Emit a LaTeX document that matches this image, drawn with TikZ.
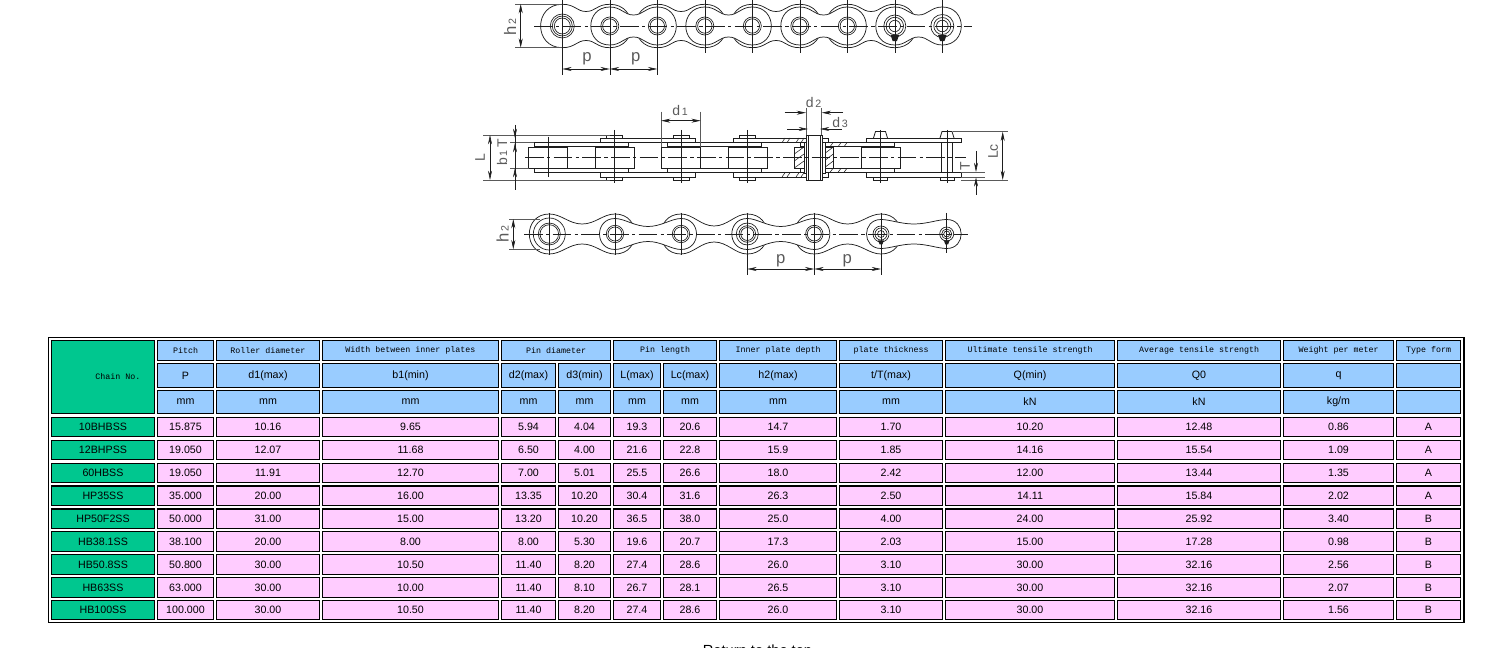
\documentclass[tikz,border=0pt]{standalone}
\usepackage{fontspec}
\setmainfont{Liberation Sans}
\newfontfamily\headmono{Liberation Mono}
\usepackage{xcolor}
\usetikzlibrary{arrows.meta}
\definecolor{ink}{HTML}{1E1E1E}
\definecolor{dimgrey}{HTML}{5A5A5A}
\definecolor{cellblue}{HTML}{99CCFF}
\definecolor{cellpink}{HTML}{FFCCFF}
\definecolor{cellgreen}{HTML}{00C78F}
\tikzset{
  link/.style={draw=ink, fill=white, line width=0.55pt},
  ring/.style={draw=ink, line width=0.5pt},
  part/.style={draw=ink, fill=white, line width=0.6pt},
  thin part/.style={draw=ink, line width=0.4pt},
  cen/.style={draw=ink, line width=0.4pt, dash pattern=on 14pt off 2.5pt on 2.5pt off 2.5pt},
  vcen/.style={draw=ink, line width=0.4pt},
  ext/.style={draw=dimgrey, line width=0.5pt},
  dimline/.style={draw=ink, line width=0.45pt, {Stealth[length=7pt,width=3pt]}-{Stealth[length=7pt,width=3pt]}},
  inarrow/.style={draw=ink, line width=0.45pt, -{Stealth[length=7pt,width=3pt]}},
  dimlab/.style={text=dimgrey, font=\fontsize{12.5}{12.5}\selectfont, inner sep=0pt},
  midlab/.style={dimlab, font=\fontsize{10.5}{10.5}\selectfont},
  cell/.style={draw=black, line width=0.85pt, inner sep=0pt, outer sep=0pt, text=black, font=\fontsize{8}{8}\selectfont},
  headcell/.style={cell, fill=cellblue},
  headtext/.style={font=\headmono\fontsize{6.25}{6.25}\selectfont},
  datacell/.style={cell, fill=cellpink},
  namecell/.style={cell, fill=cellgreen}
}
% x1, x2, y, lobe radius, waist half height
\newcommand{\ChainLink}[5]{%
  \draw[link] (#1,{#3-#4})
    .. controls ({#1+0.6*#4},{#3-#4}) and ({(#1+#2)/2-0.2*(#2-#1)},{#3-#5}) .. ({(#1+#2)/2},{#3-#5})
    .. controls ({(#1+#2)/2+0.2*(#2-#1)},{#3-#5}) and ({#2-0.6*#4},{#3-#4}) .. (#2,{#3-#4})
    .. controls ({#2+1.333*#4},{#3-#4}) and ({#2+1.333*#4},{#3+#4}) .. (#2,{#3+#4})
    .. controls ({#2-0.6*#4},{#3+#4}) and ({(#1+#2)/2+0.2*(#2-#1)},{#3+#5}) .. ({(#1+#2)/2},{#3+#5})
    .. controls ({(#1+#2)/2-0.2*(#2-#1)},{#3+#5}) and ({#1+0.6*#4},{#3+#4}) .. (#1,{#3+#4})
    .. controls ({#1-1.333*#4},{#3+#4}) and ({#1-1.333*#4},{#3-#4}) .. (#1,{#3-#4}) -- cycle;
}
% x, y, list of radii
\newcommand{\PinRings}[3]{%
  \foreach \rr in {#3} {\draw[ring] (#1,#2) circle[radius=\rr];}
}
% x, y, half width
\newcommand{\ClipMark}[3]{%
  \fill[ink] ({#1-#3},{#2-0.7*#3}) -- ({#1+#3},{#2-0.7*#3}) -- ({#1+0.5*#3},{#2+0.7*#3}) -- ({#1-0.5*#3},{#2+0.7*#3}) -- cycle;
}
% name, x0, x1, y0, y1, style, text
\newcommand{\TabCell}[7]{%
  \node[#6, minimum width={(#3-#2-1)*0.75pt}, minimum height={(#5-#4-1)*0.75pt}] (#1) at ({(#2+#3)/2},{(#4+#5)/2}) {#7};
}
\newcommand{\Sub}[2]{#1{\fontsize{8}{8}\selectfont\,#2}}
\def\colL{{51,157,216,322,501,558,613,663,719,839,945,1117,1283,1396}}
\def\colR{{155,214,320,499,556,611,661,717,837,943,1115,1281,1394,1461}}

\begin{document}
\begin{tikzpicture}[x=0.75pt,y=-0.75pt]
  \useasboundingbox (0,0) rectangle (1505,648);

  % top chain
  \foreach \k in {0,2,4,6} {
    \pgfmathsetmacro{\xa}{562.3+47.5*\k}
    \pgfmathsetmacro{\xb}{\xa+47.5}
    \ChainLink{\xa}{\xb}{26}{21.7}{14.5}
  }
  \foreach \k in {1,3,5,7} {
    \pgfmathsetmacro{\xa}{562.3+47.5*\k}
    \pgfmathsetmacro{\xb}{\xa+47.5}
    \ChainLink{\xa}{\xb}{26}{19}{11}
  }
  \PinRings{562.3}{26}{12,10,8}
  \foreach \k in {1,...,6} {
    \pgfmathsetmacro{\xa}{562.3+47.5*\k}
    \PinRings{\xa}{26}{9,7.2}
  }
  \PinRings{894.8}{26}{11,8.7,5.7}
  \PinRings{942.3}{26}{11.5,8.5,5.8}
  \ClipMark{894.8}{38}{4.3}
  \ClipMark{942.3}{38}{4.3}
  \draw[cen] (534,26) -- (972,26);
  \foreach \k in {3,...,8} {
    \pgfmathsetmacro{\xa}{562.3+47.5*\k}
    \draw[vcen] (\xa,0) -- (\xa,53);
  }
  \foreach \xa in {562.3,609.8,657.3} {\draw[vcen] (\xa,0) -- (\xa,75);}
  \draw[ext] (515,4) -- (562.3,4);
  \draw[ext] (515,47.7) -- (562.3,47.7);
  \draw[dimline] (520.7,4) -- (520.7,47.7);
  \draw[dimline] (562.3,69) -- (609.8,69);
  \draw[dimline] (609.8,69) -- (657.3,69);
  \node[dimlab, rotate=90] (htop) at (510,27) {\Sub{h}{2}};
  \node[dimlab] (pa) at (587,58.5) {p};
  \node[dimlab] (pb) at (635.7,58.5) {p};

  % middle chain
  \foreach \xa in {548,614.5,681,747.5,880.5} {
    \draw[part] ({\xa-19.5},147) rectangle ({\xa+19.5},168);
  }
  \foreach \xa/\xb in {534/628.7,667/761.3,800/894.5} {
    \draw[part] (\xa,142.7) rectangle (\xb,146.7);
    \draw[part] (\xa,168.3) rectangle (\xb,172.3);
  }
  \foreach \xa in {947} {
    \draw[part] ({\xa-5.7},142) rectangle ({\xa+5.7},173);
  }
  \foreach \xa in {614.5,681,747.5} {
    \draw[part] ({\xa-8},135) rectangle ({\xa+8},138);
    \draw[part] ({\xa-8},176.7) rectangle ({\xa+8},180);
  }
  \foreach \xa in {880.5,947} {
    \draw[part] ({\xa-7},138) -- ({\xa-5},131.5) -- ({\xa+5},131.5) -- ({\xa+7},138);
    \draw[part] ({\xa-7},177) rectangle ({\xa+7},180.5);
  }
  \foreach \xa/\xb in {600.5/695,733.5/828,866.5/961} {
    \draw[part] (\xa,138) rectangle (\xb,142.7);
    \draw[part] (\xa,172.7) rectangle (\xb,177);
  }
  % cut pin
  \draw[part] (794.3,147) rectangle (804,168);
  \draw[part] (824,147) rectangle (833.3,168);
  \foreach \ya in {147,154,161} {
    \draw[thin part] (794.3,\ya+7) -- (804,\ya);
    \draw[thin part] (824,\ya+7) -- (833.3,\ya);
  }
  \draw[part] (804,142) rectangle (825,173);
  \draw[part] (806,135) rectangle (822,180);
  \draw[thin part] (808,135) -- (808,180);
  \draw[thin part] (820,135) -- (820,180);
  \foreach \xa in {782,787,796,801} {
    \draw[thin part] (\xa,142.7) -- ({\xa+3},138);
    \draw[thin part] (\xa,177) -- ({\xa+3},172.7);
  }
  \foreach \xa in {830,838,844} {
    \draw[thin part] (\xa,146.7) -- ({\xa+3},142.7);
    \draw[thin part] (\xa,172.3) -- ({\xa+3},168.3);
  }
  \draw[cen] (525,157.5) -- (966,157.5);
  \foreach \xa/\ya/\yb in {548/136.7/176.7,614.5/130/183,681/130/183,747.5/130/183,880.5/130/183,947/130/183} {
    \draw[vcen] (\xa,\ya) -- (\xa,\yb);
  }
  % middle dimensions
  \draw[ext] (483,135) -- (610,135);
  \draw[ext] (483,180) -- (610,180);
  \draw[ext] (510,142.7) -- (534,142.7);
  \draw[ext] (510,168) -- (529,168);
  \draw[dimline] (490,135) -- (490,180);
  \draw[vcen] (515,125) -- (515,190);
  \draw[inarrow] (515,126) -- (515,138);
  \draw[inarrow] (515,152) -- (515,143);
  \draw[inarrow] (515,180) -- (515,168);
  \node[midlab, rotate=90] (ltxt) at (480,158) {L};
  \node[midlab, rotate=90] (bt) at (502,152.5) {\Sub{b}{1}\,T};
  \draw[ext] (661,111.7) -- (661,147);
  \draw[ext] (700.7,111.7) -- (700.7,147);
  \draw[dimline] (661,120.7) -- (700.7,120.7);
  \node[midlab] (done) at (680,110.5) {\Sub{d}{1}};
  \draw[ext] (806,108) -- (806,135);
  \draw[ext] (821.7,108) -- (821.7,135);
  \draw[inarrow] (784.5,112.7) -- (806,112.7);
  \draw[inarrow] (843,112.7) -- (821.7,112.7);
  \node[midlab] (dtwo) at (813.5,103) {\Sub{d}{2}};
  \draw[inarrow] (787,129) -- (808,129);
  \draw[inarrow] (841.7,129) -- (820,129);
  \node[midlab] (dthree) at (840,122.5) {\Sub{d}{3}};
  \draw[ext] (953,131.7) -- (1008,131.7);
  \draw[ext] (961,180) -- (1008,180);
  \draw[dimline] (1002.7,131.7) -- (1002.7,180);
  \node[midlab, rotate=90] (lctxt) at (993,151.5) {Lc};
  \draw[ext] (961,172) -- (985,172);
  \draw[ext] (961,177.3) -- (985,177.3);
  \draw[inarrow] (976,151) -- (976,172);
  \draw[inarrow] (976,195) -- (976,177.3);
  \node[midlab, rotate=90] (ttxt) at (965,166) {T};

  % bottom chain
  \foreach \xa/\xb/\wa in {549.3/615/10,681/747.3/8,814.3/881/10} {
    \ChainLink{\xa}{\xb}{234}{20}{\wa}
  }
  \foreach \xa/\xb in {615/681,747.3/814.3} {
    \ChainLink{\xa}{\xb}{234}{15.5}{7.5}
  }
  \ChainLink{881}{946.7}{234}{14.5}{10}
  \PinRings{549.3}{234}{16,11,9.3}
  \PinRings{747.3}{234}{11,8.3,6.5}
  \foreach \xa in {615,681,814.3} {\PinRings{\xa}{234}{8.7,7};}
  \PinRings{881}{234}{8,6,3.5}
  \PinRings{946.7}{234}{7,5,3}
  \ClipMark{881}{242.3}{2.9}
  \ClipMark{946.7}{242.3}{2.9}
  \draw[cen] (524,234) -- (968,234);
  \foreach \xa/\yb in {549.3/255,615/255,681/255,747.3/275,814.3/275,881/275,946.7/253} {
    \draw[vcen] (\xa,213) -- (\xa,\yb);
  }
  \draw[ext] (509,219) -- (540,219);
  \draw[ext] (509,249.3) -- (540,249.3);
  \draw[dimline] (513.3,219) -- (513.3,249.3);
  \draw[dimline] (747.3,269) -- (814.3,269);
  \draw[dimline] (814.3,269) -- (881,269);
  \node[dimlab, rotate=90] (hbot) at (502.7,234) {\Sub{h}{2}};
  \node[dimlab] (pc) at (780.7,260.5) {p};
  \node[dimlab] (pd) at (847.3,260.5) {p};

  % table
  \draw[draw=black, line width=1pt] (48.5,337.5) rectangle (1464,622.5);
  \TabCell{chainno}{51}{155}{340}{414}{namecell, headtext}{\hspace*{22.5pt}Chain No.}
  \foreach \xa/\xb/\txt [count=\c] in {157/214/Pitch,216/320/Roller diameter,322/499/Width between inner plates,501/611/Pin diameter,613/717/Pin length,719/837/Inner plate depth,839/943/plate thickness,945/1115/Ultimate tensile strength,1117/1281/Average tensile strength,1283/1394/Weight per meter,1396/1461/Type form} {
    \TabCell{top\c}{\xa}{\xb}{340}{361}{headcell, headtext}{\txt}
  }
  \foreach \txt/\unit [count=\c] in {P/mm,d1(max)/mm,b1(min)/mm,d2(max)/mm,d3(min)/mm,L(max)/mm,Lc(max)/mm,h2(max)/mm,{t/T(max)}/mm,Q(min)/kN,Q0/kN,q/{kg/m},/} {
    \pgfmathsetmacro{\xa}{\colL[\c]}
    \pgfmathsetmacro{\xb}{\colR[\c]}
    \TabCell{sym\c}{\xa}{\xb}{363}{388}{headcell}{\txt}
    \TabCell{unit\c}{\xa}{\xb}{390}{414}{headcell}{\unit}
  }
  \foreach \ya/\yb/\vals [count=\r] in {
    417/437/{10BHBSS,15.875,10.16,9.65,5.94,4.04,19.3,20.6,14.7,1.70,10.20,12.48,0.86,A},
    440/460/{12BHPSS,19.050,12.07,11.68,6.50,4.00,21.6,22.8,15.9,1.85,14.16,15.54,1.09,A},
    463/483/{60HBSS,19.050,11.91,12.70,7.00,5.01,25.5,26.6,18.0,2.42,12.00,13.44,1.35,A},
    485.5/506/{HP35SS,35.000,20.00,16.00,13.35,10.20,30.4,31.6,26.3,2.50,14.11,15.84,2.02,A},
    508.5/529/{HP50F2SS,50.000,31.00,15.00,13.20,10.20,36.5,38.0,25.0,4.00,24.00,25.92,3.40,B},
    531/552/{HB38.1SS,38.100,20.00,8.00,8.00,5.30,19.6,20.7,17.3,2.03,15.00,17.28,0.98,B},
    554/575/{HB50.8SS,50.800,30.00,10.50,11.40,8.20,27.4,28.6,26.0,3.10,30.00,32.16,2.56,B},
    577/598/{HB63SS,63.000,30.00,10.00,11.40,8.10,26.7,28.1,26.5,3.10,30.00,32.16,2.07,B},
    600/620/{HB100SS,100.000,30.00,10.50,11.40,8.20,27.4,28.6,26.0,3.10,30.00,32.16,1.56,B}} {
    \foreach \val [count=\c from 0] in \vals {
      \pgfmathsetmacro{\xa}{\colL[\c]}
      \pgfmathsetmacro{\xb}{\colR[\c]}
      \ifnum\c=0
        \TabCell{row\r-\c}{\xa}{\xb}{\ya}{\yb}{namecell}{\val}
      \else
        \TabCell{row\r-\c}{\xa}{\xb}{\ya}{\yb}{datacell}{\val}
      \fi
    }
  }
  \node[anchor=base, text=black, font=\fontsize{11}{11}\selectfont] (toplink) at (757.5,655) {Return to the top};
\end{tikzpicture}
\end{document}
